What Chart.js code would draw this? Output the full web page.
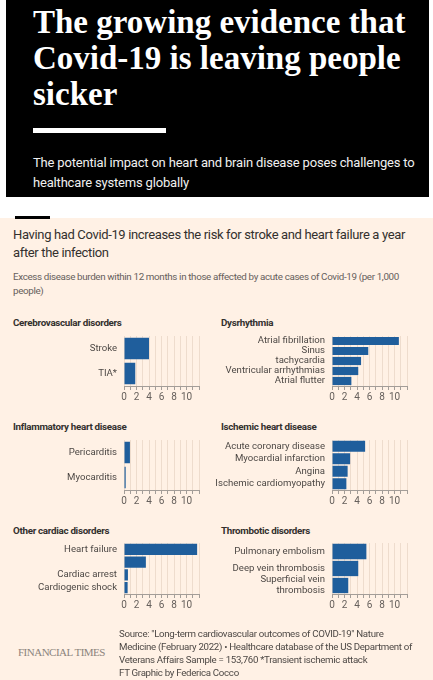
<!DOCTYPE html>
<html lang="en">
<head>
    <meta charset="UTF-8">
    <script src="https://cdn.jsdelivr.net/npm/chart.js"></script>
    <title>Covid-19 excess disease burden</title>
    <style>
        body { margin: 0; width: 433px; height: 680px; background: #fff; position: relative; overflow: hidden; font-family: Roboto, sans-serif; }
        .abs { position: absolute; white-space: nowrap; }
        .head { left: 6px; top: 0; width: 423px; height: 197px; background: #000; }
        .title { left: 33px; top: 4px; font: bold 33px/36px 'Liberation Serif', serif; color: #fff; letter-spacing: 0; }
        .rule { left: 33px; top: 128px; width: 133px; height: 5px; background: #fff; }
        .standfirst { left: 33px; top: 153px; font-size: 13px; line-height: 20px; color: #f0f0f0; letter-spacing: -0.18px; }
        .paper { left: 0; top: 218px; width: 433px; height: 462px; background: #fff1e5; }
        .tab { left: 15px; top: 216px; width: 35px; height: 3px; background: #000; }
        .ctitle { left: 13px; top: 226px; font-size: 13px; line-height: 18px; color: #33302e; letter-spacing: -0.35px; }
        .csub { left: 13px; top: 270px; font-size: 9.8px; line-height: 14px; color: #66605c; letter-spacing: -0.35px; }
        .ptitle { font-size: 9.8px; line-height: 14px; font-weight: bold; color: #33302e; letter-spacing: -0.3px; }
        .logo { left: 18px; top: 645px; font: 11px/14px 'Liberation Serif', serif; color: #8c847c; letter-spacing: -0.5px; }
        .source { left: 119px; top: 627px; font-size: 9.7px; line-height: 13px; color: #4d4845; letter-spacing: -0.3px; }
        canvas { position: absolute; }
    </style>
</head>
<body>
    <div class="abs head"></div>
    <div class="abs title">The growing evidence that<br>Covid-19 is leaving people<br>sicker</div>
    <div class="abs rule"></div>
    <div class="abs standfirst">The potential impact on heart and brain disease poses challenges to<br>healthcare systems globally</div>

    <div class="abs paper"></div>
    <div class="abs tab"></div>
    <div class="abs ctitle">Having had Covid-19 increases the risk for stroke and heart failure a year<br>after the infection</div>
    <div class="abs csub">Excess disease burden within 12 months in those affected by acute cases of Covid-19 (per 1,000<br>people)</div>

    <div class="abs ptitle" style="left:13px; top:316px">Cerebrovascular disorders</div>
    <div class="abs ptitle" style="left:221px; top:316px">Dysrhythmia</div>
    <div class="abs ptitle" style="left:13px; top:420px">Inflammatory heart disease</div>
    <div class="abs ptitle" style="left:221px; top:420px">Ischemic heart disease</div>
    <div class="abs ptitle" style="left:13px; top:524px">Other cardiac disorders</div>
    <div class="abs ptitle" style="left:221px; top:524px">Thrombotic disorders</div>

    <canvas id="cerebro" style="left:0px; top:332px"></canvas>
    <canvas id="dysrhythmia" style="left:200px; top:332px"></canvas>
    <canvas id="inflam" style="left:0px; top:436px"></canvas>
    <canvas id="ischemic" style="left:200px; top:436px"></canvas>
    <canvas id="other" style="left:0px; top:539px"></canvas>
    <canvas id="thrombo" style="left:200px; top:539px"></canvas>

    <div class="abs logo">FINANCIAL TIMES</div>
    <div class="abs source">Source: "Long-term cardiovascular outcomes of COVID-19" Nature<br>Medicine (February 2022) &bull; Healthcare database of the US Department of<br>Veterans Affairs Sample = 153,760 *Transient ischemic attack<br>FT Graphic by Federica Cocco</div>

    <script>
        // excess cases per 1,000 people
        const cerebroLabels = ['Stroke', 'TIA*'];
        const cerebroValues = [4.0, 1.8];

        const dysLabels = ['Atrial fibrillation', 'Sinus', 'tachycardia', 'Ventricular arrhythmias', 'Atrial flutter'];
        const dysValues = [10.7, 5.8, 4.65, 4.2, 3.1];

        const inflamLabels = ['Pericarditis', 'Myocarditis'];
        const inflamValues = [0.95, 0.27];

        const ischemicLabels = ['Acute coronary disease', 'Myocardial infarction', 'Angina', 'Ischemic cardiomyopathy'];
        const ischemicValues = [5.3, 2.9, 2.5, 2.3];

        const otherLabels = ['Heart failure', '', 'Cardiac arrest', 'Cardiogenic shock'];
        const otherValues = [11.7, 3.5, 0.63, 0.58];

        const thromboLabels = ['Pulmonary embolism', 'Deep vein thrombosis', ['Superficial vein', 'thrombosis']];
        const thromboValues = [5.5, 4.2, 2.6];

        const tickLabels = [0, 2, 4, 6, 8, 10];
        const axisMax = 12;

        Chart.defaults.font.family = 'Roboto, sans-serif';
        Chart.defaults.animation = false;

        // left column canvases start at x=0, right ones at x=200; plot area begins 124/132px in
        function makePanel(id, labels, values, barPct, plotHeight, axisWidth) {
            const canvas = document.getElementById(id);
            const w = axisWidth + 81;
            canvas.width = w;
            canvas.height = 4 + plotHeight + 20;
            canvas.style.width = w + 'px';
            canvas.style.height = canvas.height + 'px';

            return new Chart(canvas.getContext('2d'), {
                type: 'bar',
                data: {
                    labels: labels,
                    datasets: [{
                        data: values,
                        backgroundColor: '#1f5e9c',
                        barPercentage: barPct,
                        categoryPercentage: 1
                    }]
                },
                options: {
                    indexAxis: 'y',
                    responsive: false,
                    layout: { padding: { top: 4, right: 6, left: 0, bottom: 0 } },
                    plugins: { legend: { display: false }, tooltip: { enabled: false } },
                    scales: {
                        x: {
                            min: 0,
                            max: axisMax,
                            afterFit: s => { s.height = 20; },
                            grid: { color: 'rgba(150,110,80,0.16)', tickColor: '#a39d98', tickLength: 4 },
                            border: { display: true, color: '#a39d98' },
                            ticks: {
                                stepSize: 1,
                                autoSkip: false,
                                maxRotation: 0,
                                padding: 1,
                                color: '#66605c',
                                font: { size: 10 },
                                callback: v => tickLabels.includes(v) ? String(v) : ''
                            }
                        },
                        y: {
                            afterFit: s => { s.width = axisWidth; s.paddingTop = 0; s.paddingBottom = 0; },
                            grid: { display: false, drawTicks: false },
                            border: { display: false },
                            ticks: { autoSkip: false, padding: 7, color: '#4d4845', font: { size: 9.6, lineHeight: 1.15 } }
                        }
                    }
                }
            });
        }

        makePanel('cerebro', cerebroLabels, cerebroValues, 0.86, 50, 124);
        makePanel('dysrhythmia', dysLabels, dysValues, 0.82, 50, 132);
        makePanel('inflam', inflamLabels, inflamValues, 0.86, 50, 124);
        makePanel('ischemic', ischemicLabels, ischemicValues, 0.88, 50, 132);
        makePanel('other', otherLabels, otherValues, 0.88, 51, 124);
        makePanel('thrombo', thromboLabels, thromboValues, 0.9, 51, 132);
    </script>
</body>
</html>
